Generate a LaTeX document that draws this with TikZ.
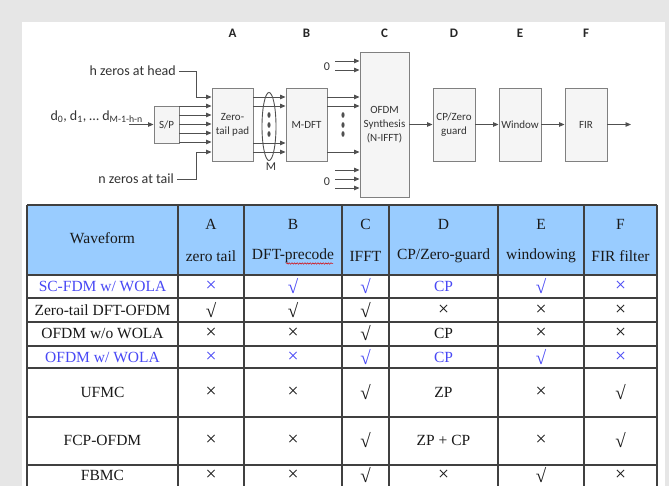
\documentclass[tikz,border=0pt]{standalone}
\usepackage{fontspec}
\setmainfont{Liberation Serif}
\newfontfamily\diagfont{Carlito}
\usetikzlibrary{arrows.meta,shapes.geometric,decorations.pathmorphing}

\definecolor{pagegray}{RGB}{230,230,230}
\definecolor{hdrblue}{RGB}{153,204,255}
\definecolor{hilite}{RGB}{72,72,245}
\definecolor{wire}{RGB}{80,80,80}
\definecolor{boxline}{RGB}{128,128,128}
\definecolor{gridline}{RGB}{64,64,64}

% tall radical and wide cross used as the marks in the table
\newcommand\tickmk{{\fontsize{19}{17}\selectfont √}}
\newcommand\crossmk{{\fontsize{19.5}{17}\selectfont ×}}

\begin{document}
\begin{tikzpicture}[x=1pt,y=-1pt,
  blk/.style={draw=boxline, line width=0.9pt, fill=black!4, inner sep=0pt,
    align=center, font=\diagfont\fontsize{11}{14}\selectfont, text=black!80},
  wirearrow/.style={draw=wire, line width=0.9pt, -{Triangle[length=5.5pt,width=4.5pt]}},
  lbl/.style={font=\diagfont\fontsize{14}{15}\selectfont, text=black!80, inner sep=0pt},
  zerolbl/.style={font=\diagfont\fontsize{12}{13}\selectfont, text=black!80, inner sep=0pt},
  colhead/.style={font=\diagfont\bfseries\fontsize{13}{14}\selectfont, text=black!85, inner sep=0pt},
  gridrule/.style={draw=gridline, line width=1.3pt},
  cell/.style={font=\fontsize{15.5}{17}\selectfont, inner sep=0pt, text=black!90},
  bluecell/.style={cell, text=hilite},
]
\useasboundingbox (0,0) rectangle (669,486);

% page and background
\fill[pagegray] (0,0) rectangle (669,486);
\fill[white] (22,22) rectangle (665,486);

% ---------------- block diagram ----------------
\node[blk, minimum width=25, minimum height=37] (sp) at (166.5,124.5) {S/P};
\node[blk, minimum width=41, minimum height=73] (zt) at (232.5,124.5) {Zero-\\tail pad};
\node[blk, minimum width=41, minimum height=73] (dft) at (306.5,124.5) {M-DFT};
\node[blk, minimum width=49, minimum height=145] (ofdm) at (384.5,124.5) {OFDM\\Synthesis\\(N-IFFT)};
\node[blk, minimum width=42, minimum height=73] (cpz) at (454,124.5) {CP/Zero\\guard};
\node[blk, minimum width=42, minimum height=73] (win) at (520,124.5) {Window};
\node[blk, minimum width=42, minimum height=73] (fir) at (586,124.5) {FIR};

% stage letters
\node[colhead] (la) at (zt |- 0,33) {A};
\node[colhead] (lb) at (dft |- 0,33) {B};
\node[colhead] (lc) at (ofdm |- 0,33) {C};
\node[colhead] (ld) at (cpz |- 0,33) {D};
\node[colhead] (le) at (win |- 0,33) {E};
\node[colhead] (lf) at (fir |- 0,33) {F};

% inputs
\node[lbl, anchor=east] (hz) at (176,71) {h zeros at head};
\node[lbl, anchor=east] (nz) at (174,179) {n zeros at tail};
\node[lbl, anchor=east] (din) at (143,117) {d\textsubscript{0}, d\textsubscript{1}, … d\textsubscript{M-1-h-n}};
\coordinate (dsrc) at (129,124.5);
\draw[wirearrow] (dsrc) -- (sp.west);

\draw[wirearrow] ([xshift=3pt]hz.east) -- ++(17,0) |- (zt.west |- 0,97);
\draw[wirearrow] ([xshift=3pt]nz.east) -- ++(19,0) |- (zt.west |- 0,152);
\foreach \yy in {106,115,124,133,142}
  \draw[wirearrow] (sp.east |- 0,\yy) -- (zt.west |- 0,\yy);

% zero-tail pad to M-DFT, grouped by the M ellipse
\foreach \yy in {97,106,143,152}
  \draw[wirearrow] (zt.east |- 0,\yy) -- (dft.west |- 0,\yy);
\node[draw=wire, line width=0.9pt, ellipse, minimum width=14, minimum height=68, inner sep=0pt] (mgrp) at (269,126.5) {};
\foreach \yy in {115,125,134}
  \fill[wire] (269,\yy) ellipse (1.6 and 2.8);
\node[zerolbl] (mlab) at (271,167) {M};

% M-DFT to OFDM synthesis
\foreach \yy in {97,106,152}
  \draw[wirearrow] (dft.east |- 0,\yy) -- (ofdm.west |- 0,\yy);
\foreach \yy in {115,125,134}
  \fill[wire] (343,\yy) ellipse (1.6 and 2.8);

% zero-filled subcarriers
\node[zerolbl] (ztop) at (327,67) {0};
\node[zerolbl] (zbot) at (327,182) {0};
\foreach \yy [count=\k] in {61,70} {
  \coordinate (zt\k) at (335,\yy);
  \draw[wirearrow] (zt\k) -- (ofdm.west |- zt\k);
}
\foreach \yy [count=\k] in {170,179,188} {
  \coordinate (zb\k) at (335,\yy);
  \draw[wirearrow] (zb\k) -- (ofdm.west |- zb\k);
}

% output chain
\draw[wirearrow] (ofdm.east |- cpz) -- (cpz.west);
\draw[wirearrow] (cpz.east) -- (win.west);
\draw[wirearrow] (win.east) -- (fir.west);
\coordinate (txout) at (631,124.5);
\draw[wirearrow] (fir.east) -- (txout);

% ---------------- comparison table ----------------
\fill[hdrblue] (27,205) rectangle (657,275);
\foreach \yy in {205,275,298,322,346,368,417,465}
  \draw[gridrule] (27,\yy) -- (657,\yy);
\foreach \xx in {27,178,244,342,389,498,584,657}
  \draw[gridrule] (\xx,205) -- (\xx,486);

% header
\node[cell] (hwave) at (102.5,238) {Waveform};
\foreach \cx/\ltr/\nm [count=\k] in {211/A/zero tail, 293/B/DFT-precode, 365.5/C/IFFT,
    443.5/D/CP{/}Zero-guard, 541/E/windowing, 620.5/F/FIR filter} {
  \node[cell] (hl\k) at (\cx,224) {\ltr};
  \node[cell] (hn\k) at (\cx,256) {\nm};
}
\draw[red!85!black, line width=0.5pt, decorate,
  decoration={snake, amplitude=0.7pt, segment length=2.6pt}] (286,263.5) -- (333,263.5);

% body rows
\foreach \cx/\txt [count=\k] in {102.5/{SC-FDM w{/} WOLA}, 211/\crossmk, 293/\tickmk, 365.5/\tickmk, 443.5/CP, 541/\tickmk, 620.5/\crossmk}
  \node[bluecell] (ra\k) at (\cx,286.5) {\txt};
\foreach \cx/\txt [count=\k] in {102.5/Zero-tail DFT-OFDM, 211/\tickmk, 293/\tickmk, 365.5/\tickmk, 443.5/\crossmk, 541/\crossmk, 620.5/\crossmk}
  \node[cell] (rb\k) at (\cx,310) {\txt};
\foreach \cx/\txt [count=\k] in {102.5/{OFDM w{/}o WOLA}, 211/\crossmk, 293/\crossmk, 365.5/\tickmk, 443.5/CP, 541/\crossmk, 620.5/\crossmk}
  \node[cell] (rc\k) at (\cx,333.5) {\txt};
\foreach \cx/\txt [count=\k] in {102.5/{OFDM w{/} WOLA}, 211/\crossmk, 293/\crossmk, 365.5/\tickmk, 443.5/CP, 541/\tickmk, 620.5/\crossmk}
  \node[bluecell] (rd\k) at (\cx,357) {\txt};
\foreach \cx/\txt [count=\k] in {102.5/UFMC, 211/\crossmk, 293/\crossmk, 365.5/\tickmk, 443.5/ZP, 541/\crossmk, 620.5/\tickmk}
  \node[cell] (re\k) at (\cx,392.5) {\txt};
\foreach \cx/\txt [count=\k] in {102.5/FCP-OFDM, 211/\crossmk, 293/\crossmk, 365.5/\tickmk, 443.5/ZP + CP, 541/\crossmk, 620.5/\tickmk}
  \node[cell] (rf\k) at (\cx,440.5) {\txt};
\foreach \cx/\txt [count=\k] in {102.5/FBMC, 211/\crossmk, 293/\crossmk, 365.5/\tickmk, 443.5/\crossmk, 541/\tickmk, 620.5/\crossmk}
  \node[cell] (rg\k) at (\cx,475) {\txt};
\end{tikzpicture}
\end{document}
